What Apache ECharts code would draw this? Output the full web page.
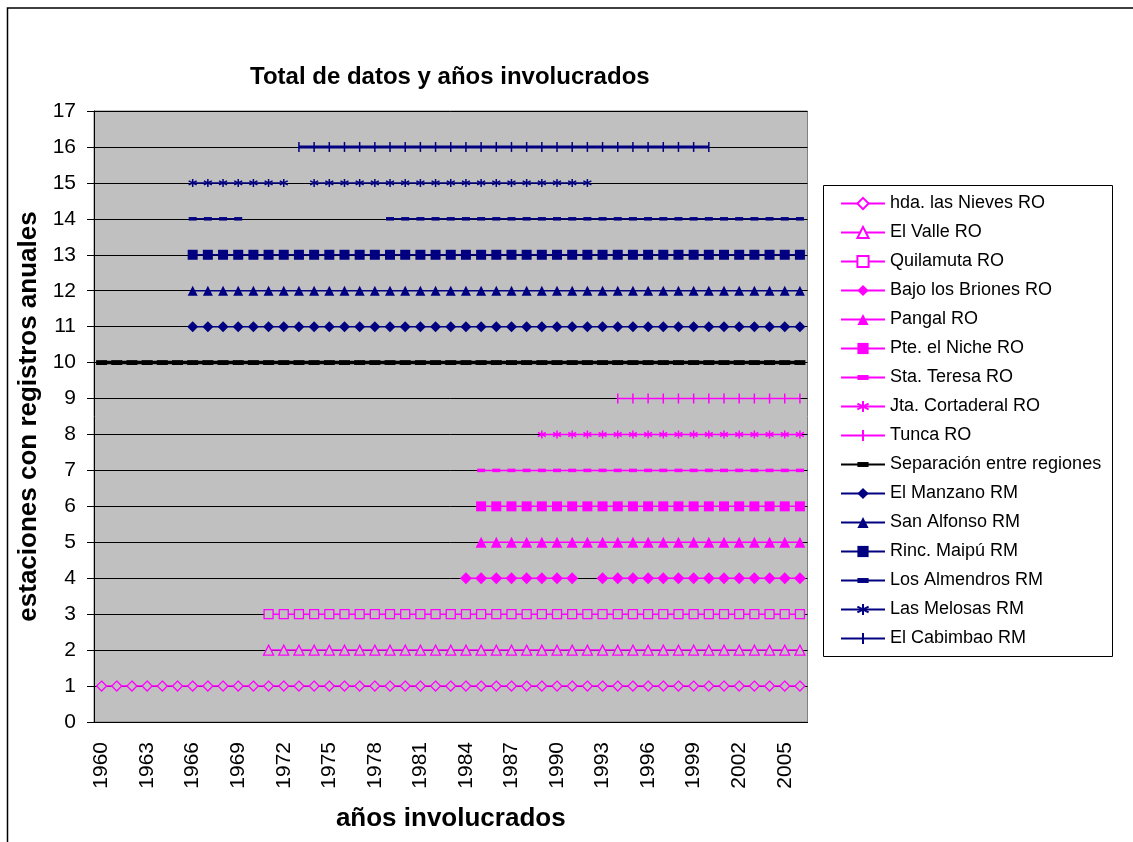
<!DOCTYPE html>
<html>
<head>
<meta charset="utf-8">
<title>Total de datos y años involucrados</title>
<script src="https://cdn.jsdelivr.net/npm/echarts@6/dist/echarts.min.js"></script>
<style>
html, body { margin: 0; padding: 0; background: #fff; }
#chart { width: 1133px; height: 842px; }
</style>
</head>
<body>
<div id="chart"></div>
<script>
// categorias del eje x
const years = [
  '1960', '1961', '1962', '1963', '1964', '1965', '1966', '1967', '1968', '1969',
  '1970', '1971', '1972', '1973', '1974', '1975', '1976', '1977', '1978', '1979',
  '1980', '1981', '1982', '1983', '1984', '1985', '1986', '1987', '1988', '1989',
  '1990', '1991', '1992', '1993', '1994', '1995', '1996', '1997', '1998', '1999',
  '2000', '2001', '2002', '2003', '2004', '2005', '2006'
]

// nombre de cada estacion y su nivel en el eje y
const stationNames = [
  'hda. las Nieves RO', 'El Valle RO', 'Quilamuta RO', 'Bajo los Briones RO',
  'Pangal RO', 'Pte. el Niche RO', 'Sta. Teresa RO', 'Jta. Cortaderal RO',
  'Tunca RO', 'Separación entre regiones', 'El Manzano RM', 'San Alfonso RM',
  'Rinc. Maipú RM', 'Los Almendros RM', 'Las Melosas RM', 'El Cabimbao RM'
]
const stationLevels = [1, 2, 3, 4, 5, 6, 7, 8, 9, 10, 11, 12, 13, 14, 15, 16]

// periodos con registros (año inicial, año final)
const hdaLasNieves = [[1960, 2006]]
const elValle = [[1971, 2006]]
const quilamuta = [[1971, 2006]]
const bajoLosBriones = [[1984, 1991], [1993, 2006]]
const pangal = [[1985, 2006]]
const pteElNiche = [[1985, 2006]]
const staTeresa = [[1985, 2006]]
const jtaCortaderal = [[1989, 2006]]
const tunca = [[1994, 2006]]
const separacion = [[1960, 2006]]
const elManzano = [[1966, 2006]]
const sanAlfonso = [[1966, 2006]]
const rincMaipu = [[1966, 2006]]
const losAlmendros = [[1966, 1969], [1979, 2006]]
const lasMelosas = [[1966, 1972], [1974, 1992]]
const elCabimbao = [[1973, 2000]]

const stationSpans = [
  hdaLasNieves, elValle, quilamuta, bajoLosBriones, pangal, pteElNiche,
  staTeresa, jtaCortaderal, tunca, separacion, elManzano, sanAlfonso,
  rincMaipu, losAlmendros, lasMelosas, elCabimbao
]

const PINK = '#FF00FF'
const NAVY = '#000080'
const PLOT_BG = '#C0C0C0'
// marcadores tipo Excel (el primer y ultimo M fijan la caja 10x10)
const ASTERISK = 'path://M5,0V10M0.8,2.5L9.2,7.5M9.2,2.5L0.8,7.5'
const TICK = 'path://M0,0M5,0V10M10,10'
const DASH = 'path://M0,0M0,2.8H10V7.2H0ZM10,10'

// estilo de marcador de cada serie (mismo orden que stationNames)
const styles = [
  { color: PINK, symbol: 'diamond', size: 10, hollow: true, width: 1.5 },
  { color: PINK, symbol: 'triangle', size: 10, hollow: true, width: 1.5 },
  { color: PINK, symbol: 'rect', size: 9, hollow: true, width: 1.5 },
  { color: PINK, symbol: 'diamond', size: 12, width: 1.5 },
  { color: PINK, symbol: 'triangle', size: 11, width: 1.5 },
  { color: PINK, symbol: 'rect', size: 10, width: 1.5 },
  { color: PINK, symbol: DASH, size: 8, width: 1.5 },
  { color: PINK, symbol: ASTERISK, size: 8, stroke: true, width: 1.5 },
  { color: PINK, symbol: TICK, size: 10, stroke: true, width: 1.5 },
  { color: '#000', symbol: DASH, size: 11, width: 3.5 },
  { color: NAVY, symbol: 'diamond', size: 11, width: 1.5 },
  { color: NAVY, symbol: 'triangle', size: 10, width: 1.5 },
  { color: NAVY, symbol: 'rect', size: 10, width: 1.5 },
  { color: NAVY, symbol: DASH, size: 8, width: 1.5 },
  { color: NAVY, symbol: ASTERISK, size: 8, stroke: true, width: 1.5 },
  { color: NAVY, symbol: TICK, size: 10, stroke: true, width: 3 }
]

const inSpans = (year, spans) => spans.some(([a, b]) => +year >= a && +year <= b)

const series = stationNames.map((name, i) => {
  const st = styles[i]
  let itemStyle = { color: st.color }
  if (st.hollow) {
    itemStyle = { color: PLOT_BG, borderColor: st.color, borderWidth: 1.3 }
  } else if (st.stroke) {
    itemStyle = { color: st.color, borderColor: st.color, borderWidth: 1.5 }
  }
  return {
    name: name,
    type: 'line',
    symbol: st.symbol,
    symbolSize: st.size,
    showAllSymbol: true,
    connectNulls: false,
    lineStyle: { color: st.color, width: st.width },
    itemStyle: itemStyle,
    emphasis: { disabled: true },
    data: years.map(y => inSpans(y, stationSpans[i]) ? stationLevels[i] : null)
  }
})

const legendData = stationNames.map((name, i) => {
  return styles[i].hollow ? { name: name, itemStyle: { color: '#fff' } } : { name: name }
})

const chart = echarts.init(document.getElementById('chart'))
chart.setOption({
  animation: false,
  backgroundColor: '#fff',
  textStyle: { fontFamily: 'Arial, "Liberation Sans", sans-serif' },
  title: {
    text: 'Total de datos y años involucrados',
    left: 245,
    top: 60,
    textStyle: { fontSize: 24, fontWeight: 'bold', color: '#000' }
  },
  graphic: [
    {
      type: 'rect',
      shape: { x: 7.5, y: 8, width: 1140, height: 850 },
      style: { fill: null, stroke: '#000', lineWidth: 1.5 },
      silent: true
    },
    {
      type: 'rect',
      shape: { x: 823.5, y: 185.5, width: 289, height: 471 },
      style: { fill: '#fff', stroke: '#000', lineWidth: 1 },
      silent: true,
      z: -1
    }
  ],
  legend: {
    orient: 'vertical',
    left: 840,
    top: 194.5,
    padding: 0,
    itemWidth: 44,
    itemHeight: 14,
    itemGap: 11,
    selectedMode: false,
    textStyle: { fontSize: 18, lineHeight: 18, color: '#000' },
    data: legendData
  },
  grid: {
    left: 94,
    right: 325.5,
    top: 111,
    bottom: 120,
    show: true,
    backgroundColor: PLOT_BG,
    borderColor: '#808080',
    borderWidth: 1
  },
  xAxis: {
    type: 'category',
    data: years,
    boundaryGap: true,
    axisLine: { lineStyle: { color: '#000', width: 1 } },
    axisTick: { interval: 0, length: 7, lineStyle: { color: '#000' } },
    axisLabel: { interval: 2, rotate: 90, fontSize: 21, color: '#000', margin: 20 },
    splitLine: { show: false },
    name: 'años involucrados',
    nameLocation: 'middle',
    nameGap: 84,
    nameTextStyle: { fontSize: 26, fontWeight: 'bold', color: '#000' }
  },
  yAxis: {
    type: 'value',
    min: 0,
    max: 17,
    interval: 1,
    axisLine: { show: true, lineStyle: { color: '#000', width: 1 } },
    axisTick: { show: true, length: 7, lineStyle: { color: '#000' } },
    axisLabel: { fontSize: 21, color: '#000', margin: 18 },
    splitLine: { lineStyle: { color: '#000', width: 1 } },
    name: 'estaciones con registros anuales',
    nameLocation: 'middle',
    nameGap: 48,
    nameTextStyle: { fontSize: 26, fontWeight: 'bold', color: '#000' }
  },
  series: series
})
</script>
</body>
</html>
